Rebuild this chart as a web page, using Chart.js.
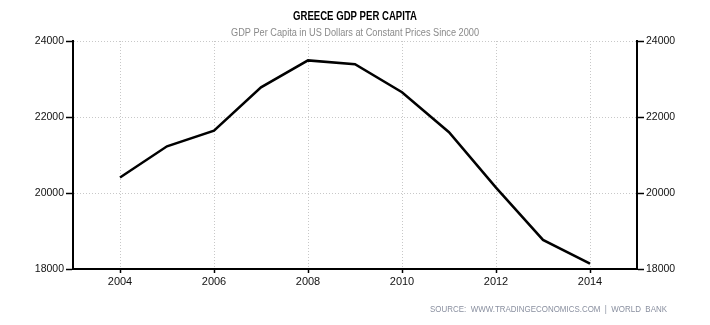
<!DOCTYPE html>
<html>
<head>
<meta charset="utf-8">
<script src="https://cdn.jsdelivr.net/npm/chart.js@4/dist/chart.umd.min.js"></script>
<style>
  body { margin: 0; background: #fff; }
  canvas { display: block; }
</style>
</head>
<body>
<canvas id="gdpchart" width="710" height="325"></canvas>
<script>
"use strict";

var years = [2004, 2005, 2006, 2007, 2008, 2009, 2010, 2011, 2012, 2013, 2014];
var gdpPerCapita = [20410, 21230, 21640, 22780, 23490, 23390, 22650, 21600, 20140, 18765, 18140];
var xTicks = [2004, 2006, 2008, 2010, 2012, 2014];
var yTicks = [18000, 20000, 22000, 24000];

var titleText = 'GREECE GDP PER CAPITA';
var subtitleText = 'GDP Per Capita in US Dollars at Constant Prices Since 2000';
var sourceText = 'SOURCE:  WWW.TRADINGECONOMICS.COM  |  WORLD  BANK';

// draw a line of text squeezed to a given width (the original uses a narrow font)
function fitText(ctx, text, cx, cy, font, color, width) {
    ctx.save();
    ctx.font = font;
    ctx.fillStyle = color;
    ctx.textAlign = 'center';
    ctx.textBaseline = 'middle';
    var w = ctx.measureText(text).width;
    ctx.translate(cx, cy);
    ctx.scale(Math.min(1, width / w), 1);
    ctx.fillText(text, 0, 0);
    ctx.restore();
}

var textPlugin = {
    id: 'texts',
    afterDraw: function (chart) {
        var ctx = chart.ctx;
        fitText(ctx, titleText, 355, 17, 'bold 12px "Liberation Sans", sans-serif', '#000', 124);
        fitText(ctx, subtitleText, 355, 33, '10px "Liberation Sans", sans-serif', '#8a8a8a', 248);
        fitText(ctx, sourceText, 548.5, 310, '9px "Liberation Sans", sans-serif', '#8a90a0', 237);
    }
};

var gridDotted = {
    color: '#c8c8c8',
    lineWidth: 1,
    tickColor: '#000',
    tickWidth: 1.5,
    tickLength: 7
};

var ctx = document.getElementById('gdpchart').getContext('2d');
var myChart = new Chart(ctx, {
    type: 'line',
    data: {
        datasets: [{
            data: years.map(function (y, i) { return {x: y, y: gdpPerCapita[i]}; }),
            borderColor: '#000',
            borderWidth: 2.5,
            pointRadius: 0,
            tension: 0,
            fill: false
        }]
    },
    options: {
        responsive: false,
        animation: false,
        layout: {
            padding: {top: 41, left: 0, right: 0, bottom: 0}
        },
        plugins: {
            legend: {display: false},
            tooltip: {enabled: false}
        },
        scales: {
            x: {
                type: 'linear',
                min: 2003,
                max: 2015,
                afterBuildTicks: function (scale) {
                    scale.ticks = xTicks.map(function (v) { return {value: v}; });
                },
                afterFit: function (scale) { scale.height = 56; },
                grid: {
                    color: '#c8c8c8',
                    lineWidth: 1,
                    tickColor: '#000',
                    tickWidth: 1.5,
                    tickLength: 4
                },
                border: {display: true, color: '#000', width: 2, dash: [1, 2]},
                ticks: {
                    color: '#111',
                    padding: 2,
                    maxRotation: 0,
                    font: {family: 'Liberation Sans', size: 11},
                    callback: function (v) { return String(v); }
                }
            },
            y: {
                position: 'left',
                min: 18000,
                max: 24000,
                afterBuildTicks: function (scale) {
                    scale.ticks = yTicks.map(function (v) { return {value: v}; });
                },
                afterFit: function (scale) { scale.width = 73; },
                grid: gridDotted,
                border: {display: true, color: '#000', width: 2, dash: [1, 2]},
                ticks: {
                    color: '#111',
                    padding: 2,
                    font: {family: 'Liberation Sans', size: 10.5},
                    callback: function (v) { return String(v); }
                }
            },
            y2: {
                position: 'right',
                min: 18000,
                max: 24000,
                afterBuildTicks: function (scale) {
                    scale.ticks = yTicks.map(function (v) { return {value: v}; });
                },
                afterFit: function (scale) { scale.width = 73; },
                grid: {
                    drawOnChartArea: false,
                    color: '#000',
                    tickColor: '#000',
                    tickWidth: 1.5,
                    tickLength: 7
                },
                border: {display: true, color: '#000', width: 2},
                ticks: {
                    color: '#111',
                    padding: 2,
                    font: {family: 'Liberation Sans', size: 10.5},
                    callback: function (v) { return String(v); }
                }
            }
        }
    },
    plugins: [textPlugin]
});
</script>
</body>
</html>
